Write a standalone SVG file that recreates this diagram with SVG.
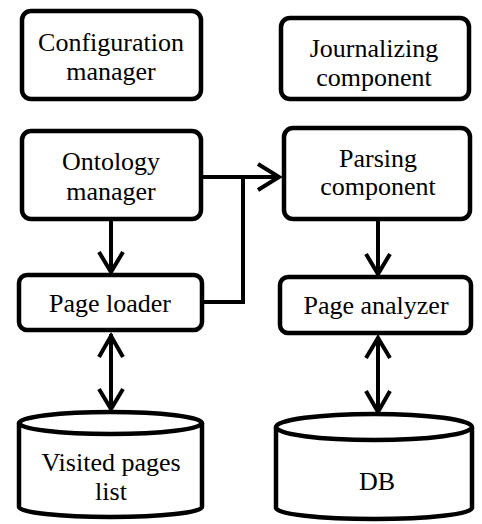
<svg xmlns="http://www.w3.org/2000/svg" width="482" height="524" viewBox="0 0 482 524">
<style>
.box{fill:#fff;stroke:#000;stroke-width:4.5}
.db{fill:#fff;stroke:#000;stroke-width:4.5}
.ln{fill:none;stroke:#000;stroke-width:4;stroke-linejoin:miter}
.hd{fill:none;stroke:#000;stroke-width:4;stroke-linejoin:miter;stroke-linecap:butt}
.t{font-family:'Liberation Serif','DejaVu Serif','Times New Roman',Times,serif;font-size:26px;fill:#000;text-anchor:middle}
</style>
<rect width="482" height="524" fill="#fff"/>
<g id="config"><rect class="box" x="22" y="11" width="179" height="88" rx="9"/><text class="t" x="111" y="51">Configuration</text><text class="t" x="111" y="80">manager</text></g>
<g id="journal"><rect class="box" x="281" y="18" width="188" height="81" rx="9"/><text class="t" x="374" y="57">Journalizing</text><text class="t" x="374" y="86">component</text></g>
<g id="ontology"><rect class="box" x="22" y="131" width="179" height="88" rx="9"/><text class="t" x="111" y="170">Ontology</text><text class="t" x="111" y="200">manager</text></g>
<g id="parsing"><rect class="box" x="284" y="128" width="186" height="91" rx="9"/><text class="t" x="378" y="167">Parsing</text><text class="t" x="378" y="195">component</text></g>
<g id="loader"><rect class="box" x="19" y="275" width="183" height="55" rx="8"/><text class="t" x="110" y="312">Page loader</text></g>
<g id="analyzer"><rect class="box" x="280" y="277" width="191" height="56" rx="8"/><text class="t" x="376" y="314">Page analyzer</text></g>
<g id="visited"><path class="db" d="M19,423 V507 A91.5,10 0 0 0 202,507 V423"/><ellipse class="db" cx="110.5" cy="423" rx="91.5" ry="11"/><text class="t" x="111" y="471">Visited pages</text><text class="t" x="111" y="500">list</text></g>
<g id="dbnode"><path class="db" d="M276,427 V508 A98,11 0 0 0 472,508 V427"/><ellipse class="db" cx="374" cy="427" rx="98" ry="13"/><text class="t" x="377" y="490">DB</text></g>
<g id="connectors">
<path class="ln" d="M201,177 H278"/>
<path class="hd" d="M258,164 L279,177 L258,190"/>
<path class="ln" d="M202,302 H243 V177"/>
<path class="ln" d="M111,219 V271"/>
<path class="hd" d="M99,252 L111,272 L123,252"/>
<path class="ln" d="M378,219 V273"/>
<path class="hd" d="M366,254 L378,274 L390,254"/>
<path class="ln" d="M111,334 V409"/>
<path class="hd" d="M99,357 L111,336 L123,357"/>
<path class="hd" d="M99,389 L111,409 L123,389"/>
<path class="ln" d="M378,337 V411"/>
<path class="hd" d="M366,358 L378,338 L390,358"/>
<path class="hd" d="M366,391 L378,412 L390,391"/>
</g>
</svg>
